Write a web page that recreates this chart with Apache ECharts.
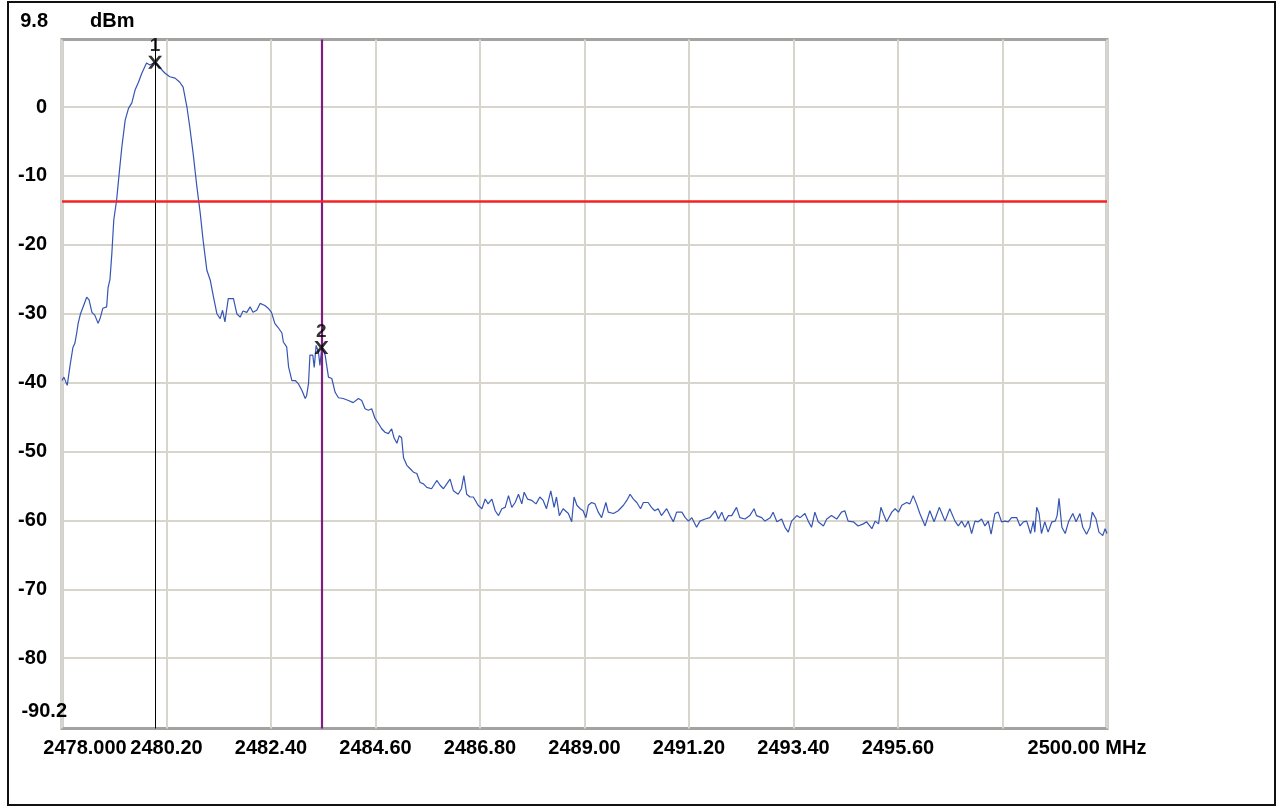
<!DOCTYPE html>
<html>
<head>
<meta charset="utf-8">
<script src="https://cdn.jsdelivr.net/npm/echarts@6/dist/echarts.min.js"></script>
<style>
html,body{margin:0;padding:0;background:#fff;}
#chart{width:1282px;height:809px;}
</style>
</head>
<body>
<div id="chart"></div>
<script>
// ---- data ----
const FREQ_MHZ = [
2478.00,2478.04,2478.11,2478.17,2478.23,2478.27,2478.31,2478.34,2478.39,2478.44,2478.52,2478.57,2478.63,2478.69,2478.76,2478.81,2478.86,2478.94,2478.97,2479.01,
2479.05,2479.09,2479.15,2479.21,2479.26,2479.33,2479.40,2479.47,2479.54,2479.61,2479.68,2479.78,2479.85,2479.96,2480.06,2480.17,2480.27,2480.38,2480.48,2480.55,
2480.63,2480.69,2480.76,2480.84,2480.91,2480.97,2481.05,2481.12,2481.19,2481.26,2481.33,2481.38,2481.43,2481.50,2481.61,2481.68,2481.75,2481.81,2481.89,2481.96,
2482.02,2482.10,2482.17,2482.27,2482.34,2482.41,2482.48,2482.55,2482.63,2482.66,2482.73,2482.77,2482.84,2482.91,2482.97,2483.05,2483.12,2483.15,2483.19,2483.22,
2483.28,2483.31,2483.35,2483.40,2483.43,2483.47,2483.54,2483.61,2483.68,2483.75,2483.82,2483.92,2484.03,2484.13,2484.24,2484.31,2484.38,2484.45,2484.52,2484.59,
2484.66,2484.73,2484.80,2484.87,2484.94,2484.99,2485.05,2485.10,2485.15,2485.19,2485.26,2485.33,2485.40,2485.47,2485.54,2485.61,2485.68,2485.78,2485.89,2485.96,
2486.03,2486.10,2486.17,2486.24,2486.34,2486.41,2486.46,2486.52,2486.59,2486.66,2486.76,2486.84,2486.91,2486.97,2487.05,2487.12,2487.19,2487.26,2487.33,2487.40,
2487.47,2487.54,2487.61,2487.68,2487.73,2487.80,2487.89,2487.98,2488.06,2488.13,2488.20,2488.29,2488.36,2488.41,2488.47,2488.55,2488.66,2488.73,2488.78,2488.84,
2488.91,2488.97,2489.03,2489.08,2489.15,2489.22,2489.29,2489.36,2489.45,2489.50,2489.61,2489.71,2489.82,2489.89,2489.96,2490.03,2490.10,2490.18,2490.24,2490.34,
2490.41,2490.48,2490.55,2490.62,2490.73,2490.80,2490.87,2490.94,2491.05,2491.12,2491.19,2491.26,2491.36,2491.43,2491.54,2491.64,2491.75,2491.82,2491.89,2491.96,
2492.03,2492.10,2492.20,2492.27,2492.38,2492.48,2492.57,2492.62,2492.73,2492.80,2492.91,2492.97,2493.05,2493.15,2493.22,2493.29,2493.36,2493.47,2493.54,2493.64,
2493.71,2493.78,2493.85,2493.92,2494.03,2494.10,2494.20,2494.31,2494.41,2494.48,2494.55,2494.66,2494.76,2494.87,2494.94,2495.05,2495.12,2495.19,2495.24,2495.29,
2495.36,2495.47,2495.54,2495.61,2495.68,2495.78,2495.85,2495.92,2495.99,2496.06,2496.17,2496.27,2496.36,2496.47,2496.59,2496.69,2496.80,2496.87,2496.94,2497.01,
2497.08,2497.15,2497.22,2497.29,2497.36,2497.43,2497.50,2497.56,2497.64,2497.71,2497.78,2497.85,2497.92,2497.99,2498.10,2498.17,2498.24,2498.31,2498.39,2498.45,
2498.48,2498.52,2498.57,2498.62,2498.69,2498.76,2498.84,2498.91,2498.95,2498.99,2499.05,2499.12,2499.19,2499.28,2499.35,2499.43,2499.49,2499.57,2499.64,2499.69,
2499.77,2499.83,2499.91,2499.96,2500.00
];
const LEVEL_DBM = [
-39.7,-39.2,-40.4,-37.5,-34.9,-34.3,-32.8,-31.4,-30.0,-29.1,-27.6,-28.0,-29.8,-30.2,-31.4,-30.5,-29.2,-29.0,-26.2,-25.0,
-21.2,-16.4,-13.5,-9.2,-5.8,-1.9,-0.2,0.6,2.5,3.6,4.9,6.4,6.1,6.5,5.7,4.9,4.4,4.2,3.6,2.9,
0.0,-2.9,-6.7,-11.6,-15.4,-19.3,-23.7,-25.1,-27.6,-30.0,-30.7,-29.5,-31.2,-27.8,-27.8,-30.0,-30.5,-29.6,-29.8,-29.0,
-29.8,-29.5,-28.5,-28.8,-29.2,-29.8,-31.4,-32.0,-32.8,-34.1,-34.8,-37.7,-39.7,-39.7,-40.1,-41.1,-42.3,-41.9,-40.1,-36.0,
-36.0,-37.8,-34.6,-35.6,-37.5,-34.9,-36.0,-39.2,-39.4,-41.4,-42.2,-42.3,-42.6,-42.9,-42.3,-42.6,-43.8,-44.0,-43.8,-45.2,
-45.9,-46.7,-47.2,-47.4,-46.7,-48.0,-48.8,-47.7,-48.0,-50.9,-52.0,-52.5,-53.0,-53.2,-54.5,-54.7,-55.2,-55.4,-54.2,-54.9,
-55.4,-54.7,-54.0,-55.7,-56.2,-55.4,-53.5,-56.2,-56.6,-56.6,-57.8,-58.3,-56.9,-57.6,-56.9,-58.6,-59.3,-58.3,-58.1,-56.4,
-58.1,-57.4,-56.2,-57.6,-55.9,-56.9,-57.1,-57.6,-56.6,-57.1,-58.3,-55.7,-58.1,-56.6,-59.3,-58.3,-59.0,-60.2,-56.6,-57.8,
-58.3,-58.6,-59.6,-57.8,-57.4,-57.6,-58.8,-59.6,-57.4,-58.8,-59.0,-58.6,-57.8,-57.1,-56.2,-56.9,-57.4,-58.3,-57.4,-57.4,
-58.1,-58.6,-58.3,-59.3,-58.3,-59.3,-60.2,-58.8,-58.8,-59.6,-60.1,-59.6,-61.0,-60.1,-59.8,-59.6,-58.6,-59.8,-58.8,-60.1,
-59.3,-59.3,-58.1,-59.6,-59.8,-59.3,-58.3,-59.3,-59.6,-60.1,-59.6,-58.8,-60.2,-59.8,-61.0,-61.7,-60.1,-59.3,-59.6,-59.0,
-60.1,-61.0,-58.8,-60.2,-60.8,-59.8,-59.3,-59.8,-58.8,-58.6,-60.1,-60.2,-60.8,-60.5,-60.2,-61.2,-60.1,-60.5,-58.1,-59.0,
-60.2,-58.8,-58.3,-58.8,-57.8,-57.4,-57.6,-56.4,-57.6,-59.0,-60.8,-58.6,-60.2,-58.1,-60.1,-58.3,-60.1,-60.8,-60.1,-61.0,
-60.1,-61.9,-60.1,-60.2,-59.8,-60.8,-60.1,-62.0,-59.0,-58.8,-60.2,-60.1,-60.2,-59.6,-59.6,-60.8,-60.2,-60.1,-61.9,-60.1,
-61.7,-58.1,-59.0,-61.9,-60.2,-61.7,-60.2,-60.1,-59.3,-56.8,-61.0,-61.9,-60.2,-59.0,-60.2,-59.0,-61.0,-62.0,-61.0,-58.8,
-59.8,-61.7,-62.2,-61.2,-61.9
];
const X_TICKS_MHZ = [2478.0,2480.2,2482.4,2484.6,2486.8,2489.0,2491.2,2493.4,2495.6,2497.8,2500.0];
const X_LABEL_VALUES = [2478.0,2480.2,2482.4,2484.6,2486.8,2489.0,2491.2,2493.4,2495.6,2500.0];
const X_LABEL_TEXT = ['2478.000','2480.20','2482.40','2484.60','2486.80','2489.00','2491.20','2493.40','2495.60','2500.00 MHz'];
const Y_TICKS_DBM = [-80,-70,-60,-50,-40,-30,-20,-10,0];
const Y_LABEL_VALUES = [-90.2,-80,-70,-60,-50,-40,-30,-20,-10,0,9.8];
const Y_LABEL_TEXT = ['-90.2','-80','-70','-60','-50','-40','-30','-20','-10','0','9.8'];
const Y_MIN = -90.2, Y_MAX = 9.8;
const X_MIN = 2478.0, X_MAX = 2500.0;
const MARKER_FREQ = [2479.96, 2483.46];
const MARKER_LEVEL = [6.5, -34.9];
const MARKER_NAME = ['1', '2'];
const LIMIT_DBM = -13.7;

// ---- chart ----
const FONT = "'Liberation Sans',Arial,sans-serif";
const FW = 'bold';
const FS = 20;
const traceData = FREQ_MHZ.map((f, i) => [f, LEVEL_DBM[i]]);
const markerData = MARKER_FREQ.map((f, i) => ({ value: [f, MARKER_LEVEL[i]], name: MARKER_NAME[i] }));

function findIdx(arr, v) {
  let best = 0, bd = Infinity;
  arr.forEach((a, i) => { const d = Math.abs(a - v); if (d < bd) { bd = d; best = i; } });
  return bd < 1e-6 ? best : -1;
}
function txt(extra) {
  return Object.assign({ fontFamily: FONT, fontWeight: FW, fontSize: FS, color: '#000' }, extra || {});
}

const chart = echarts.init(document.getElementById('chart'), null, { renderer: 'canvas' });
chart.setOption({
  animation: false,
  backgroundColor: '#ffffff',
  graphic: [{
    type: 'rect', shape: { x: 8, y: 2, width: 1267, height: 803 },
    style: { fill: 'none', stroke: '#111', lineWidth: 2 }, silent: true, z: -1
  }],
  grid: {
    left: 62, top: 39.5, width: 1045, height: 689,
    show: true, borderColor: '#a3a3a3', borderWidth: 3,
    containLabel: false, outerBoundsMode: 'none'
  },
  xAxis: {
    type: 'value', min: X_MIN, max: X_MAX,
    axisLine: { show: false },
    axisTick: { show: false, customValues: X_TICKS_MHZ },
    splitLine: { show: true, lineStyle: { color: '#d8d5cd', width: 2 } },
    axisLabel: txt({
      customValues: X_LABEL_VALUES,
      margin: 10, interval: 0,
      hideOverlap: false, showMinLabel: true, showMaxLabel: true,
      formatter: function (v) {
        const i = findIdx(X_LABEL_VALUES, v);
        if (i < 0) return '';
        if (i === 0) return '{first|' + X_LABEL_TEXT[i] + '}';
        if (i === X_LABEL_VALUES.length - 1) return '{last|' + X_LABEL_TEXT[i] + '}';
        return '{n|' + X_LABEL_TEXT[i] + '}';
      },
      rich: {
        n: txt(),
        first: txt({ padding: [0, 0, 0, 46] }),
        last: txt({ padding: [0, 40, 0, 0] })
      }
    })
  },
  yAxis: {
    type: 'value', min: Y_MIN, max: Y_MAX,
    name: 'dBm', nameLocation: 'end', nameGap: 8,
    nameTextStyle: txt({ align: 'left', verticalAlign: 'bottom', padding: [0, 0, 0, 28] }),
    axisLine: { show: false },
    axisTick: { show: false, customValues: Y_TICKS_DBM },
    splitLine: { show: true, lineStyle: { color: '#d8d5cd', width: 2 } },
    axisLabel: txt({
      customValues: Y_LABEL_VALUES,
      margin: 60, align: 'left', interval: 0,
      hideOverlap: false, showMinLabel: true, showMaxLabel: true,
      formatter: function (v) {
        const i = findIdx(Y_LABEL_VALUES, v);
        if (i < 0) return '';
        if (i === 0) return '{bot|' + Y_LABEL_TEXT[i] + '}';
        if (i === Y_LABEL_VALUES.length - 1) return '{top|' + Y_LABEL_TEXT[i] + '}';
        return '{n|' + Y_LABEL_TEXT[i] + '}';
      },
      rich: {
        n: txt({ width: 45, align: 'right' }),
        bot: txt({ width: 65, align: 'right', padding: [0, 0, 34, 0] }),
        top: txt({ width: 46, align: 'right', padding: [0, 0, 36, 0] })
      }
    })
  },
  series: [
    {
      type: 'line', name: 'Trace', data: traceData,
      showSymbol: false, symbol: 'none',
      lineStyle: { color: '#3555b3', width: 1.2 },
      z: 3,
      markLine: {
        silent: true, symbol: ['none', 'none'], label: { show: false },
        animation: false,
        data: [
          { xAxis: MARKER_FREQ[0], lineStyle: { color: '#000000', width: 1, type: 'solid' } },
          { xAxis: MARKER_FREQ[1], lineStyle: { color: '#7d1f80', width: 2.2, type: 'solid' } },
          { yAxis: LIMIT_DBM, lineStyle: { color: '#f02424', width: 2.5, type: 'solid' } }
        ]
      }
    },
    {
      type: 'scatter', name: 'Markers', data: markerData,
      symbol: 'path://M0,0 L2.4,0 L5,3.4 L7.6,0 L10,0 L6.3,5 L10,10 L7.6,10 L5,6.6 L2.4,10 L0,10 L3.7,5 Z',
      symbolSize: [14, 13],
      itemStyle: { color: '#000' },
      z: 5,
      label: txt({
        show: true, position: 'top', distance: 0,
        formatter: p => p.name,
        fontSize: 19
      })
    }
  ]
});
</script>
</body>
</html>
